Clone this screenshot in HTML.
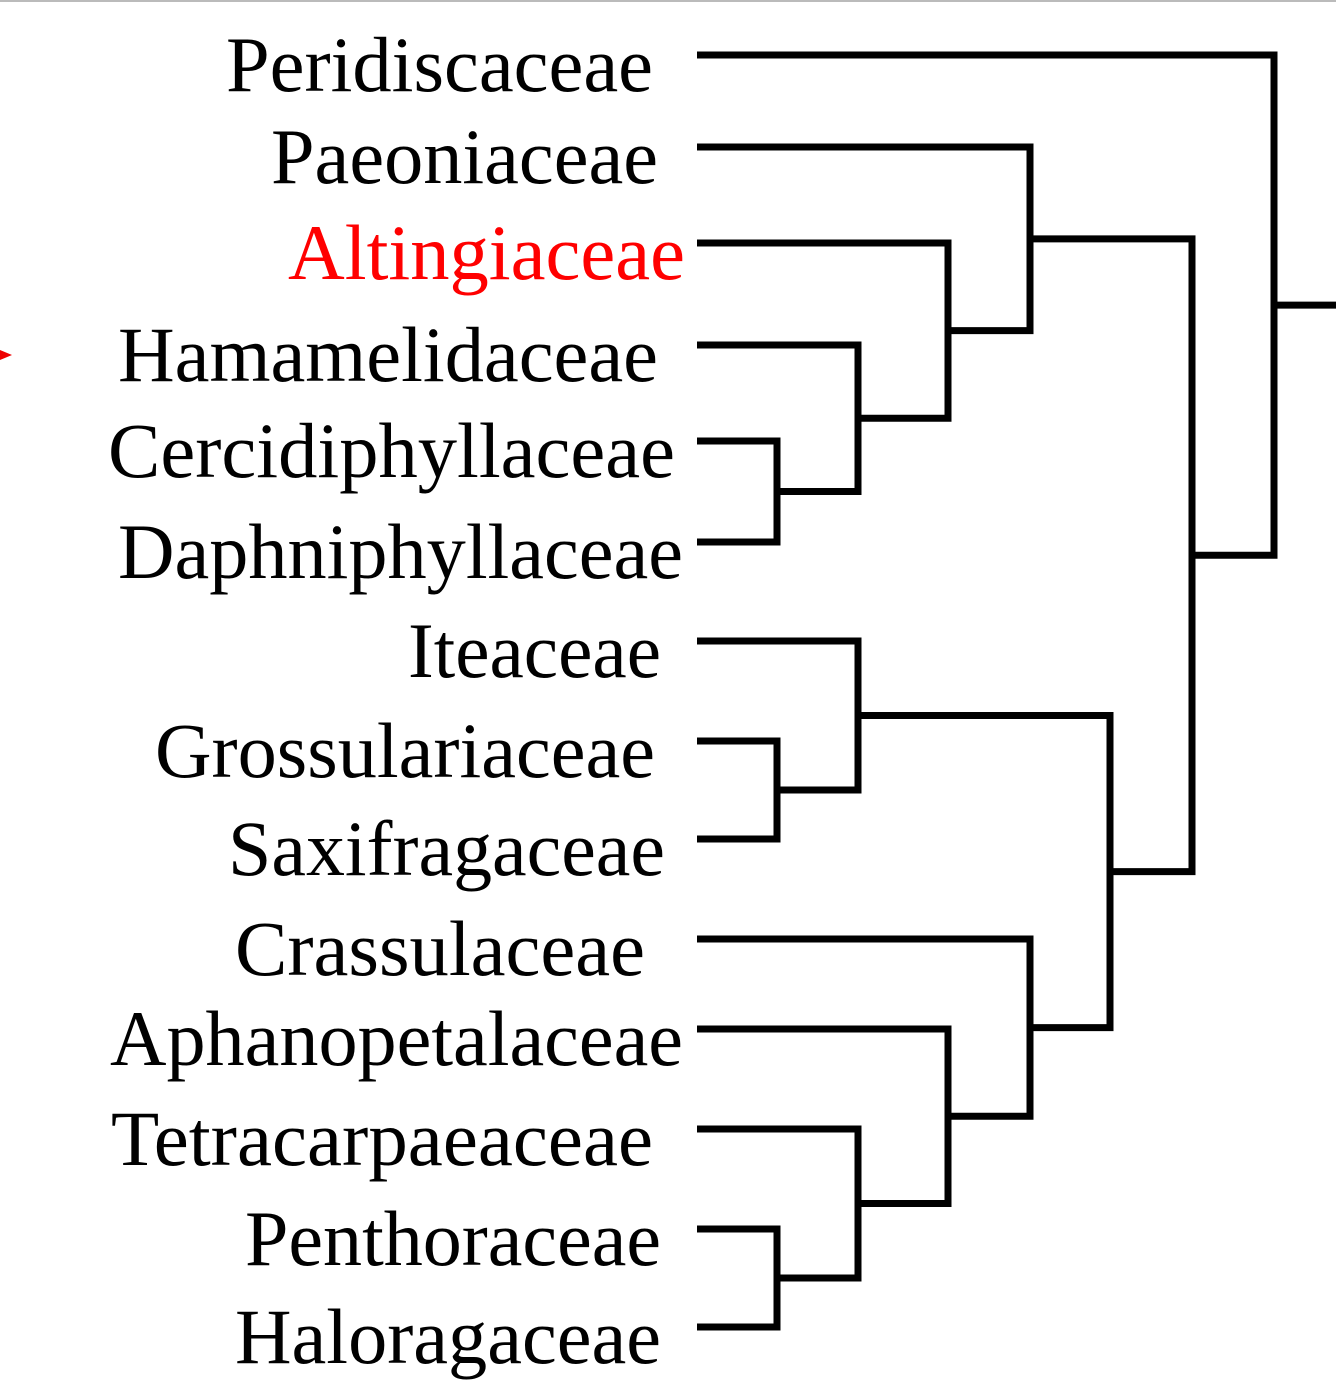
<!DOCTYPE html>
<html><head><meta charset="utf-8"><style>
html,body{margin:0;padding:0;background:#fff;width:1336px;height:1396px;overflow:hidden}
svg{display:block}
text{font-family:"Liberation Serif","Times New Roman",serif;font-size:78px}
</style></head><body>
<svg id="chart" width="1336" height="1396" viewBox="0 0 1336 1396">
<line x1="0" y1="1" x2="1336" y2="1" stroke="#bbb" stroke-width="2"/>
<path d="M0 350 L12 355 L0 360 Z" fill="#e00"/>
<g id="labels"></g><g id="tree"></g>
</svg>
<script>
const taxa=["Peridiscaceae","Paeoniaceae","Altingiaceae","Hamamelidaceae","Cercidiphyllaceae","Daphniphyllaceae","Iteaceae","Grossulariaceae","Saxifragaceae","Crassulaceae","Aphanopetalaceae","Tetracarpaeaceae","Penthoraceae","Haloragaceae"];
const leafY=[55,147,243,345,441,542,641,741,839,939,1029,1129,1229,1327];
const labelStart=[226,271,288,118,108,118,408,155,228,235,110,111,245,235];
const labelEnd=[653,658,685,658,675,683,661,655,665,645,683,653,661,661];
const highlighted=[2];
// clades: [childA, childB, nodeX]; children: "L#" leaf index or "N#" node index
const clades=[["L4","L5",777],["L3","N0",858],["L2","N1",948],["L1","N2",1030],
["L7","L8",777],["L6","N4",858],["L12","L13",777],["L11","N6",858],["L10","N7",948],
["L9","N8",1030],["N5","N9",1110],["N3","N10",1192],["L0","N11",1274]];
const leafX=697, rootEnd=1336;
const ns="http://www.w3.org/2000/svg";
const lg=document.getElementById('labels'), tg=document.getElementById('tree');
taxa.forEach((t,i)=>{
  const el=document.createElementNS(ns,'text');
  
  
  el.setAttribute('x',labelStart[i]);
  el.setAttribute('y',leafY[i]+36);
  el.setAttribute('textLength',labelEnd[i]-labelStart[i]);
  el.setAttribute('lengthAdjust','spacingAndGlyphs');
  el.setAttribute('fill',highlighted.includes(i)?'#f00':'#000');
  el.textContent=t; lg.appendChild(el);
});
const nodeY=[], nodeX=[];
function pos(c){return c[0]==='L'?[leafX,leafY[+c.slice(1)]]:[nodeX[+c.slice(1)],nodeY[+c.slice(1)]];}
clades.forEach((c,k)=>{
  const a=pos(c[0]), b=pos(c[1]), x=c[2];
  nodeX[k]=x; nodeY[k]=(a[1]+b[1])/2;
  const p=document.createElementNS(ns,'path');
  
  
  p.setAttribute('d',`M${a[0]} ${a[1]} H${x} V${b[1]} H${b[0]}`);
  p.setAttribute('fill','none');p.setAttribute('stroke','#000');p.setAttribute('stroke-width','7');
  tg.appendChild(p);
});
const r=clades.length-1;
const stem=document.createElementNS(ns,'path');


stem.setAttribute('d',`M${nodeX[r]} ${nodeY[r]} H${rootEnd}`);
stem.setAttribute('stroke','#000');stem.setAttribute('stroke-width','7');
tg.appendChild(stem);
</script>
</body></html>
